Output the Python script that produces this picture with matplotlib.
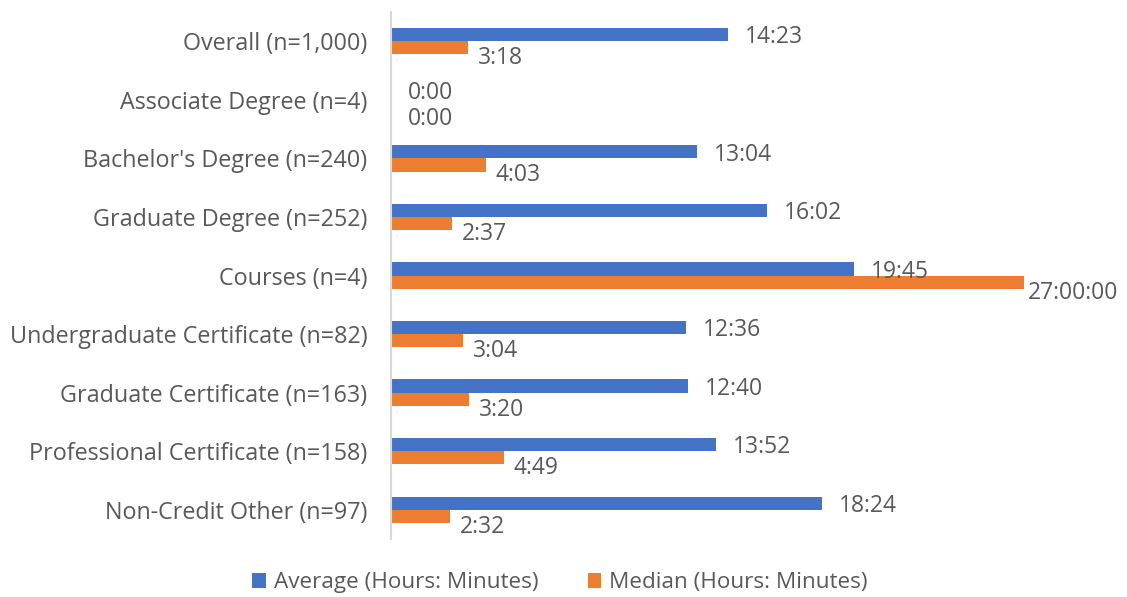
import matplotlib.pyplot as plt
import numpy as np

categories = ["Overall (n=1,000)", "Associate Degree (n=4)", "Bachelor's Degree (n=240)",
              "Graduate Degree (n=252)", "Courses (n=4)", "Undergraduate Certificate (n=82)",
              "Graduate Certificate (n=163)", "Professional Certificate (n=158)",
              "Non-Credit Other (n=97)"]
avg_labels = ["14:23", "0:00", "13:04", "16:02", "19:45", "12:36", "12:40", "13:52", "18:24"]
med_labels = ["3:18", "0:00", "4:03", "2:37", "27:00:00", "3:04", "3:20", "4:49", "2:32"]


def to_hours(s):
    parts = [int(p) for p in s.split(":")]
    return parts[0] + parts[1] / 60 + (parts[2] / 3600 if len(parts) > 2 else 0)


avg = [to_hours(s) for s in avg_labels]
med = [to_hours(s) for s in med_labels]

plt.rcParams['font.family'] = ['Open Sans', 'DejaVu Sans']
grey = '#595959'
blue = '#4472C4'
orange = '#ED7D31'

fig = plt.figure(figsize=(11.27, 5.97), dpi=100)
ax = fig.add_axes([0.347, 0.097, 0.624, 0.883])

y = np.arange(len(categories))
h = 0.225
ax.barh(y - h / 2, avg, height=h, color=blue, label='Average (Hours: Minutes)')
ax.barh(y + h / 2, med, height=h, color=orange, label='Median (Hours: Minutes)')

for i in range(len(categories)):
    # empty bars: spread the two labels a little so they don't collide
    empty = avg[i] == 0 and med[i] == 0
    ax.annotate(avg_labels[i], (avg[i], y[i] - h / 2), xytext=(12, 0 if empty else -2),
                textcoords='offset points', ha='left', va='center', fontsize=16.5, color=grey)
    if med[i] > 20:
        dx = 3
    elif med[i] == 0:
        dx = 12
    else:
        dx = 7
    ax.annotate(med_labels[i], (med[i], y[i] + h / 2), xytext=(dx, -9 if empty else -7.5),
                textcoords='offset points', ha='left', va='center', fontsize=16.5, color=grey)

ax.set_xlim(0, 30)
ax.set_ylim(len(categories) - 0.5, -0.5)
ax.set_yticks(y)
ax.set_yticklabels(categories, fontsize=16.8, color=grey)
ax.tick_params(axis='y', length=0, pad=17)
ax.set_xticks([])
for s in ['top', 'right', 'bottom']:
    ax.spines[s].set_visible(False)
ax.spines['left'].set_color('#D9D9D9')
ax.spines['left'].set_linewidth(1.5)

fig.legend(loc='lower center', bbox_to_anchor=(0.497, -0.028), ncol=2, frameon=False,
           fontsize=16.2, labelcolor=grey, handlelength=0.6, handleheight=0.6,
           handletextpad=0.35, columnspacing=2.2)

fig.savefig('out.png', dpi=100)
